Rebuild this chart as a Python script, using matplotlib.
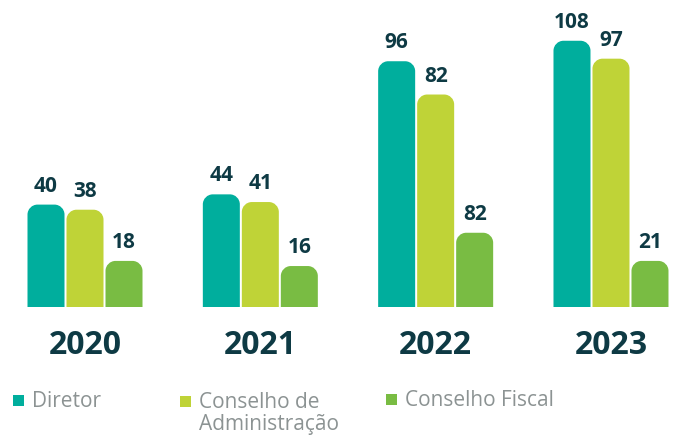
import matplotlib
matplotlib.use("Agg")
import matplotlib.pyplot as plt
import matplotlib.transforms as mtrans
from matplotlib.path import Path
from matplotlib.patches import PathPatch, Rectangle

plt.rcParams['font.family'] = ['Open Sans', 'DejaVu Sans']

# ---- data ----
years = ["2020", "2021", "2022", "2023"]
series = [["Diretor"], ["Conselho de", "Administração"], ["Conselho Fiscal"]]
# bar heights as drawn in the picture
diretor = [40, 44, 96, 104]
conselho_adm = [38, 41, 83, 97]
conselho_fiscal = [18, 16, 29, 18]
# value labels as printed on the picture
diretor_lbl = ["40", "44", "96", "108"]
conselho_adm_lbl = ["38", "41", "82", "97"]
conselho_fiscal_lbl = ["18", "16", "82", "21"]

colors = ["#00AE9D", "#BFD337", "#79BC43"]
dark = "#0E3A44"
gray = "#8C9393"

W, H = 675, 436
fig = plt.figure(figsize=(W / 100, H / 100), dpi=100)
base_px = 307            # baseline from top
px_per_x = 175.33
px_per_y = 2.56
x0_px = 85
ax = fig.add_axes([0, (H - base_px) / H, 1, base_px / H])
ax.set_xlim(-x0_px / px_per_x, (W - x0_px) / px_per_x)
ax.set_ylim(0, base_px / px_per_y)
ax.axis("off")

step = 39 / px_per_x
bw = 37 / px_per_x
rx = 10 / px_per_x
ry = 10 / px_per_y
k = 0.5523


def rounded_bar(xc, h, color):
    a, b = xc - bw / 2, xc + bw / 2
    verts = [(a, 0), (a, h - ry),
             (a, h - ry + k * ry), (a + rx - k * rx, h), (a + rx, h),
             (b - rx, h),
             (b - rx + k * rx, h), (b, h - ry + k * ry), (b, h - ry),
             (b, 0), (a, 0)]
    codes = [Path.MOVETO, Path.LINETO,
             Path.CURVE4, Path.CURVE4, Path.CURVE4,
             Path.LINETO,
             Path.CURVE4, Path.CURVE4, Path.CURVE4,
             Path.LINETO, Path.CLOSEPOLY]
    ax.add_patch(PathPatch(Path(verts, codes), facecolor=color, edgecolor="none"))


data = [diretor, conselho_adm, conselho_fiscal]
labels = [diretor_lbl, conselho_adm_lbl, conselho_fiscal_lbl]
for s, (vals, lbls) in enumerate(zip(data, labels)):
    for i, (v, l) in enumerate(zip(vals, lbls)):
        xc = i + (s - 1) * step
        rounded_bar(xc, v, colors[s])
        ax.annotate(l, (xc, v), xytext=(0, 13 * 72 / 100), textcoords="offset points",
                    ha="center", va="baseline", fontsize=15, fontweight="bold",
                    color=dark)

# year labels
tr = mtrans.blended_transform_factory(ax.transData, fig.transFigure)
for i, y in enumerate(years):
    ax.text(i, 1 - 354 / H, y, transform=tr,
            ha="center", va="baseline", fontsize=23, fontweight="bold", color=dark)

# legend (manual)
leg = [(13, 395, 32, 407), (180, 396, 199, 408), (386, 394, 405, 406)]
for (mx, my, tx, ty), lines, c in zip(leg, series, colors):
    fig.patches.append(Rectangle((mx / W, 1 - (my + 11) / H), 11 / W, 11 / H,
                                 transform=fig.transFigure, facecolor=c, edgecolor="none"))
    for j, line in enumerate(lines):
        fig.text(tx / W, 1 - (ty + 22 * j) / H, line, ha="left", va="baseline",
                 fontsize=15, color=gray)

fig.savefig("out.png", dpi=100)
